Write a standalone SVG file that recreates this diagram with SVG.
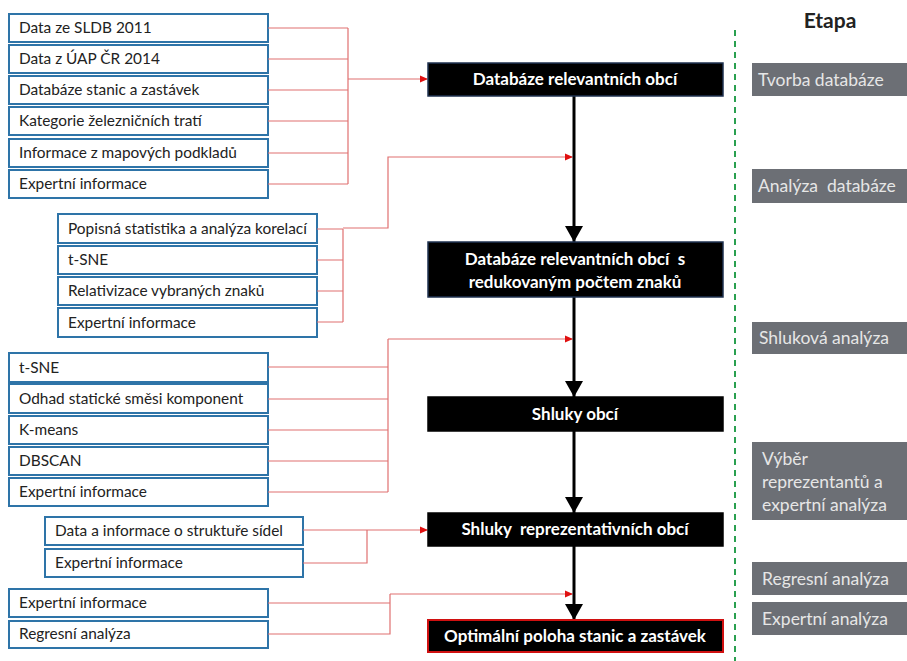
<svg xmlns="http://www.w3.org/2000/svg" width="907" height="661" viewBox="0 0 907 661">
<style>
text{white-space:pre}
.in rect{fill:#fff;stroke:#2e74a8;stroke-width:2}
.in text{font-family:Lato,"Liberation Sans",sans-serif;font-size:15.4px;fill:#222}
.main rect{fill:#000;stroke:#000;stroke-width:1.5}
.main text{font-family:Lato,"Liberation Sans",sans-serif;font-size:17px;font-weight:bold;fill:#fff;text-anchor:middle}
.st rect{fill:#6c6f75}
.st text{font-family:Lato,"Liberation Sans",sans-serif;font-size:17.5px;fill:#e6e6e6}
.red{fill:none;stroke:#e07070;stroke-width:1.2}
.blk{fill:none;stroke:#000;stroke-width:3}
</style>
<defs>
<marker id="ra" markerWidth="8" markerHeight="8" refX="7" refY="4" orient="auto" markerUnits="userSpaceOnUse"><path d="M0,0.5 L8,4 L0,7.5z" fill="#e01010"/></marker>
<marker id="ba" markerWidth="18" markerHeight="16" refX="9" refY="16" orient="0" markerUnits="userSpaceOnUse"><path d="M0,0 L18,0 L9,16z" fill="#000"/></marker>
</defs>

<g id="inputs1" class="in">
<g id="i1a"><rect x="9" y="14" width="259" height="28"/><text x="19" y="33">Data ze SLDB 2011</text></g>
<g id="i1b"><rect x="9" y="45" width="259" height="28"/><text x="19" y="64">Data z ÚAP ČR 2014</text></g>
<g id="i1c"><rect x="9" y="76" width="259" height="28"/><text x="19" y="95">Databáze stanic a zastávek</text></g>
<g id="i1d"><rect x="9" y="107" width="259" height="28"/><text x="19" y="126">Kategorie železničních tratí</text></g>
<g id="i1e"><rect x="9" y="139" width="259" height="28"/><text x="19" y="158">Informace z mapových podkladů</text></g>
<g id="i1f"><rect x="9" y="170" width="259" height="28"/><text x="19" y="189">Expertní informace</text></g>
</g>

<g id="inputs2" class="in">
<g id="i2a"><rect x="58" y="214" width="259" height="29"/><text x="68" y="234">Popisná statistika a analýza korelací</text></g>
<g id="i2b"><rect x="58" y="246" width="259" height="28"/><text x="68" y="265">t-SNE</text></g>
<g id="i2c"><rect x="58" y="277" width="259" height="28"/><text x="68" y="296">Relativizace vybraných znaků</text></g>
<g id="i2d"><rect x="58" y="308" width="259" height="29"/><text x="68" y="328">Expertní informace</text></g>
</g>

<g id="inputs3" class="in">
<g id="i3a"><rect x="9" y="353" width="259" height="29"/><text x="19" y="373">t-SNE</text></g>
<g id="i3b"><rect x="9" y="384" width="259" height="29"/><text x="19" y="404">Odhad statické směsi komponent</text></g>
<g id="i3c"><rect x="9" y="416" width="259" height="28"/><text x="19" y="435">K-means</text></g>
<g id="i3d"><rect x="9" y="447" width="259" height="28"/><text x="19" y="466">DBSCAN</text></g>
<g id="i3e"><rect x="9" y="478" width="259" height="28"/><text x="19" y="497">Expertní informace</text></g>
</g>

<g id="inputs4" class="in">
<g id="i4a"><rect x="45" y="517" width="258" height="28"/><text x="55" y="536">Data a informace o struktuře sídel</text></g>
<g id="i4b"><rect x="45" y="549" width="258" height="28"/><text x="55" y="568">Expertní informace</text></g>
</g>

<g id="inputs5" class="in">
<g id="i5a"><rect x="9" y="589" width="259" height="28"/><text x="19" y="608">Expertní informace</text></g>
<g id="i5b"><rect x="9" y="621" width="259" height="27"/><text x="19" y="639">Regresní analýza</text></g>
</g>

<g id="connectors">
<path class="red" d="M268,28H348M268,59H348M268,90H348M268,121H348M268,153H348M268,184H348M348,28V184"/>
<path class="red" d="M348,79H427" marker-end="url(#ra)"/>
<path class="red" d="M317,229H343M317,260H343M317,291H343M317,322H343M343,229V322"/>
<path class="red" d="M343,228H388V157H572" marker-end="url(#ra)"/>
<path class="red" d="M268,367H388M268,399H388M268,430H388M268,461H388M268,492H388M388,339V492"/>
<path class="red" d="M388,339H572" marker-end="url(#ra)"/>
<path class="red" d="M303,563H367V530"/>
<path class="red" d="M303,530H427" marker-end="url(#ra)"/>
<path class="red" d="M268,603H390M268,634H390V594"/>
<path class="red" d="M390,594H572" marker-end="url(#ra)"/>
<path class="blk" d="M574,96V242" marker-end="url(#ba)"/>
<path class="blk" d="M574,297V397" marker-end="url(#ba)"/>
<path class="blk" d="M574,431V513" marker-end="url(#ba)"/>
<path class="blk" d="M574,546V620" marker-end="url(#ba)"/>
</g>

<g id="n1" class="main"><rect x="428" y="63" width="295" height="33" style="stroke:#1f3250"/><text x="575" y="85">Databáze relevantních obcí</text></g>
<g id="n2" class="main"><rect x="428" y="242" width="295" height="55" style="stroke:#1f3250"/><text x="575" y="265">Databáze relevantních obcí  s</text><text x="575" y="288">redukovaným počtem znaků</text></g>
<g id="n3" class="main"><rect x="428" y="397" width="295" height="34"/><text x="575" y="420">Shluky obcí</text></g>
<g id="n4" class="main"><rect x="428" y="513" width="295" height="33"/><text x="575" y="535">Shluky  reprezentativních obcí</text></g>
<g id="n5" class="main"><rect x="428" y="620" width="295" height="32" style="stroke:#d01010;stroke-width:2"/><text x="575" y="642">Optimální poloha stanic a zastávek</text></g>

<line x1="735" y1="30" x2="735" y2="661" stroke="#2aa050" stroke-width="2" stroke-dasharray="6,5"/>

<text x="830" y="28" font-family="Lato,'Liberation Sans',sans-serif" font-size="21" font-weight="bold" fill="#222" text-anchor="middle">Etapa</text>

<g id="s1" class="st"><rect x="752" y="63" width="155" height="33"/><text x="758" y="86">Tvorba databáze</text></g>
<g id="s2" class="st"><rect x="752" y="169" width="155" height="34"/><text x="758" y="192">Analýza  databáze</text></g>
<g id="s3" class="st"><rect x="752" y="322" width="155" height="32"/><text x="759" y="344">Shluková analýza</text></g>
<g id="s4" class="st"><rect x="752" y="442" width="155" height="78"/><text x="762" y="465">Výběr</text><text x="762" y="488">reprezentantů a</text><text x="762" y="511">expertní analýza</text></g>
<g id="s5" class="st"><rect x="752" y="562" width="155" height="33"/><text x="762" y="585">Regresní analýza</text></g>
<g id="s6" class="st"><rect x="752" y="602" width="155" height="33"/><text x="762" y="625">Expertní analýza</text></g>
</svg>
